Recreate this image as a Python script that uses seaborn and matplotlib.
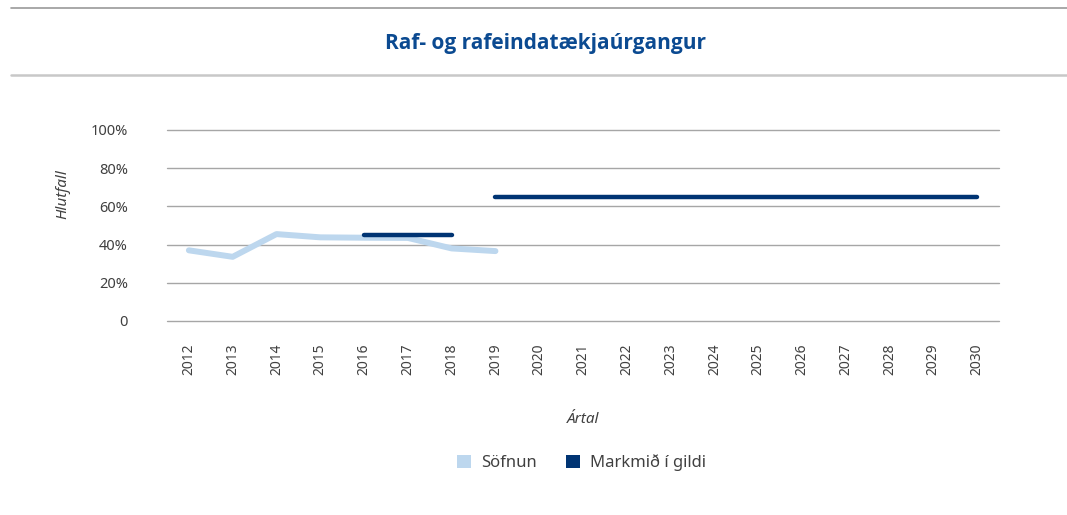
import numpy as np
import pandas as pd
import matplotlib
matplotlib.use('Agg')
import matplotlib.pyplot as plt
from matplotlib.lines import Line2D
from matplotlib.patches import Patch
import seaborn as sns

# --- Données ---
years = list(range(2012, 2031))
sofnun_years = [2012, 2013, 2014, 2015, 2016, 2017, 2018, 2019]
sofnun_vals = [0.37, 0.336, 0.455, 0.438, 0.436, 0.435, 0.38, 0.366]
markmid_years_a = [2016, 2017, 2018]
markmid_vals_a = [0.45, 0.45, 0.45]
markmid_years_b = list(range(2019, 2031))
markmid_vals_b = [0.65] * len(markmid_years_b)

y_ticks = [0, 0.2, 0.4, 0.6, 0.8, 1.0]
y_labels = ['0', '20%', '40%', '60%', '80%', '100%']

c_light = '#bdd7ee'
c_dark = '#003473'
c_title = '#0b4a91'
c_text = '#404040'

sns.set_theme(style='white')
plt.rcParams['font.family'] = ['Noto Sans', 'DejaVu Sans']

df_s = pd.DataFrame({'ar': sofnun_years, 'hlutfall': sofnun_vals})
df_m = pd.DataFrame({
    'ar': markmid_years_a + markmid_years_b,
    'hlutfall': markmid_vals_a + markmid_vals_b,
    'hluti': ['a'] * len(markmid_years_a) + ['b'] * len(markmid_years_b),
})

fig = plt.figure(figsize=(10.67, 5.15), dpi=100)
ax = fig.add_axes([0.1565, 0.3767, 0.9363 - 0.1565, 0.7476 - 0.3767])

for y in y_ticks:
    ax.axhline(y, color='#a6a6a6', lw=1.0, zorder=0, clip_on=False)

sns.lineplot(data=df_s, x='ar', y='hlutfall', ax=ax, color=c_light,
             lw=4.3, solid_capstyle='round', legend=False)
sns.lineplot(data=df_m, x='ar', y='hlutfall', units='hluti', estimator=None,
             ax=ax, color=c_dark, lw=3.2, solid_capstyle='round', legend=False)

ax.set_xlim(2011.5, 2030.5)
ax.set_ylim(0, 1.0)
ax.set_xticks(years)
ax.set_xticklabels([str(y) for y in years], rotation=90, fontsize=10, color=c_text)
ax.set_yticks(y_ticks)
ax.set_yticklabels(y_labels, fontsize=10.5, color=c_text)
ax.tick_params(axis='x', pad=16, length=0)
ax.tick_params(axis='y', pad=28, length=0)
for s in ax.spines.values():
    s.set_visible(False)

ax.set_xlabel('Ártal', fontsize=11, style='italic', color=c_text, labelpad=27)
ax.set_ylabel('Hlutfall', fontsize=11, style='italic', color=c_text)
ax.yaxis.set_label_coords(-0.1166, 0.665)

# Titre et lignes de séparation
fig.text(0.511, 0.915, 'Raf- og rafeindatækjaúrgangur', ha='center', va='center',
         fontsize=15, fontweight='bold', color=c_title, family=['Open Sans', 'DejaVu Sans'])
fig.add_artist(Line2D([0.01, 1.0], [1 - 8 / 515, 1 - 8 / 515], color='#9a9a9a', lw=1.2))
fig.add_artist(Line2D([0.01, 1.0], [1 - 75 / 515, 1 - 75 / 515], color='#c8c8c8', lw=1.8))

handles = [Patch(facecolor=c_light, edgecolor='none', label='Söfnun'),
           Patch(facecolor=c_dark, edgecolor='none', label='Markmið í gildi')]
fig.legend(handles=handles, loc='center', bbox_to_anchor=(0.545, 1 - 463 / 515),
           ncol=2, frameon=False, fontsize=12, handlelength=0.8, handleheight=0.8,
           columnspacing=1.8, handletextpad=0.6, labelcolor=c_text)

plt.savefig('out.png', dpi=100)
plt.close()
